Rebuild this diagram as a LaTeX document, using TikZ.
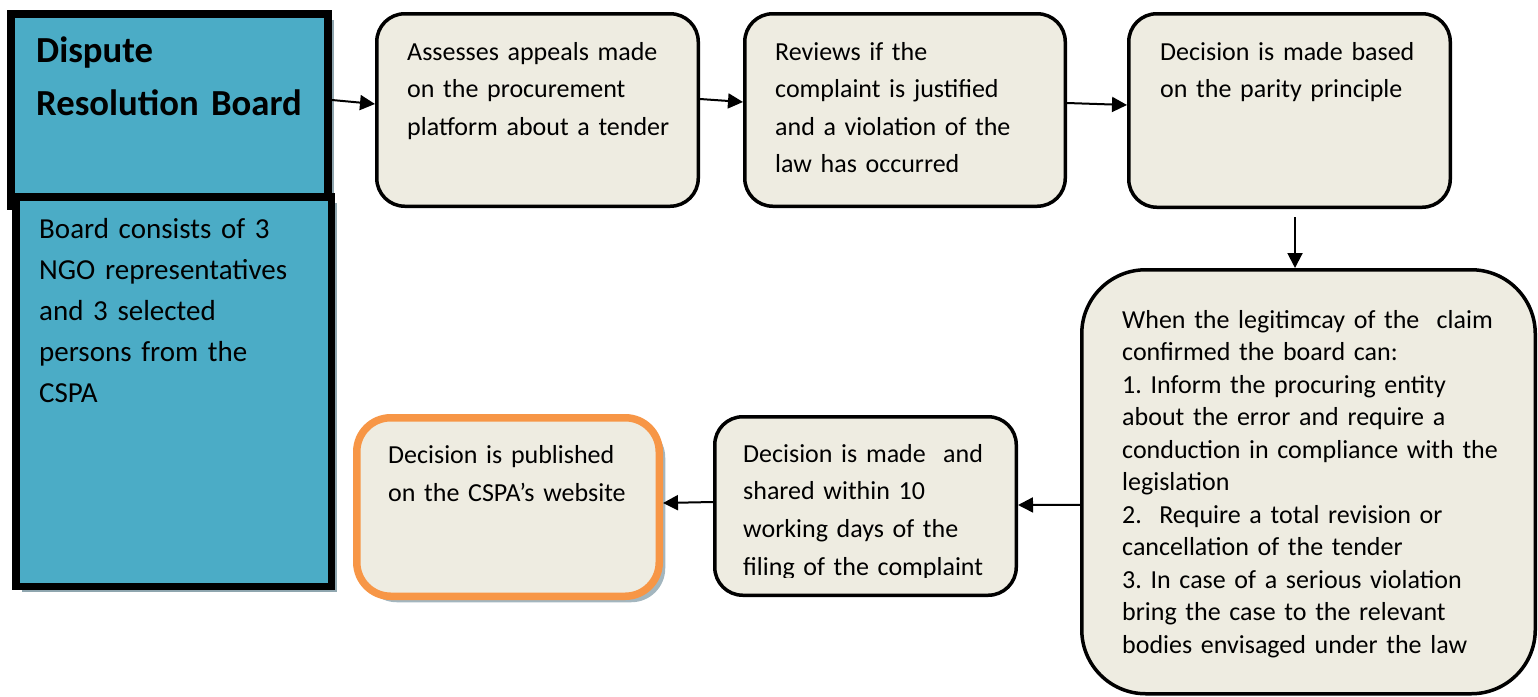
\documentclass[tikz,border=0pt]{standalone}
\usepackage{fontspec}
\setmainfont{Carlito}
\usetikzlibrary{arrows.meta,shadows}
\definecolor{bluefill}{HTML}{4BACC6}
\definecolor{beige}{HTML}{EEECE1}
\definecolor{orangeb}{HTML}{F79646}
\definecolor{shadowc}{HTML}{8FA6AF}
\definecolor{shadowf}{HTML}{A3B6BF}
\frenchspacing
\begin{document}
\begin{tikzpicture}[x=1pt,y=-1pt,
  bluebox/.style={draw=black, fill=bluefill, rectangle, inner sep=0pt, anchor=north west,
    drop shadow={opacity=1, fill=shadowc, shadow xshift=6pt, shadow yshift=-6pt}},
  stepbox/.style={draw=black, line width=3.5pt, fill=beige, rectangle, rounded corners=#1, inner sep=0pt, anchor=north west},
  stepbox/.default=28pt,
  pubbox/.style={draw=orangeb, line width=7.5pt, fill=beige, rectangle, rounded corners=34pt, inner sep=0pt, anchor=north west,
    drop shadow={opacity=1, fill=shadowf, shadow xshift=6pt, shadow yshift=-6pt}},
  txt/.style={anchor=base west, inner sep=0pt, align=left, text width=460pt,
    font=\fontsize{26pt}{37.5pt}\selectfont},
  arr/.style={line width=2pt, -{Triangle[length=15pt,width=15pt]}}]
\useasboundingbox (0,0) rectangle (1538,696);

% blue boxes
\node[bluebox, line width=8pt, minimum width=317pt, minimum height=192pt] (b1) at (7,10) {};
\node[bluebox, line width=7.5pt, minimum width=315.5pt, minimum height=389.5pt] (b2) at (12,193) {};
\node[txt, font=\bfseries\fontsize{36.7pt}{53pt}\selectfont] (t1) at (36,62) {Dispute\\Resolution Board};
\node[txt, font=\fontsize{29pt}{41pt}\selectfont] (t2) at (39,238) {Board consists of 3\\NGO representatives\\and 3 selected\\persons from the\\CSPA};

% step boxes
\node[stepbox, minimum width=321.5pt, minimum height=192.5pt] (A) at (375,12) {};
\node[stepbox, minimum width=320.5pt, minimum height=192.5pt] (B) at (743,12) {};
\node[stepbox, minimum width=321.5pt, minimum height=193.5pt] (C) at (1127,12) {};
\node[stepbox=64pt, minimum width=453.5pt, minimum height=424pt] (D) at (1080,268) {};
\node[stepbox, minimum width=301.5pt, minimum height=178.5pt] (E) at (713,415) {};
\node[pubbox, minimum width=302.5pt, minimum height=178.5pt] (F) at (353,414) {};

\node[txt] (tA) at (407,60) {Assesses appeals made\\on the procurement\\platform about a tender};
\node[txt] (tB) at (775,60) {Reviews if the\\complaint is justified\\and a violation of the\\law has occurred};
\node[txt] (tC) at (1160,60) {Decision is made based\\on the parity principle};
\node[txt, font=\fontsize{26pt}{32.5pt}\selectfont] (tD) at (1122,328) {When the legitimcay of the\ \ claim\\confirmed the board can:\\1. Inform the procuring entity\\about the error and require a\\conduction in compliance with the\\legislation\\2.\ \ Require a total revision or\\cancellation of the tender\\3. In case of a serious violation\\bring the case to the relevant\\bodies envisaged under the law};
\begin{scope}
\clip (700,400) rectangle (1030,577);
\node[txt, font=\fontsize{26pt}{37.7pt}\selectfont] (tE) at (743,462) {Decision is made\ \ and\\shared within 10\\working days of the\\filing of the complaint};
\end{scope}
\node[txt, font=\fontsize{26pt}{38.5pt}\selectfont] (tF) at (388,463) {Decision is published\\on the CSPA’s website};

% connectors
\draw[arr] ([yshift=10pt]b1.east) -- ([yshift=6pt]A.west);
\draw[arr] ([yshift=11pt]A.east) -- ([yshift=8pt]B.west);
\draw[arr] ([yshift=7pt]B.east) -- ([yshift=5.5pt]C.west);
\draw[arr] ([xshift=5.5pt,yshift=-8pt]C.south) -- ([xshift=5.5pt]C.south |- D.north);
\draw[arr] ([yshift=-23pt]D.west) -- ([yshift=1pt]E.east);
\draw[arr] ([yshift=4pt]E.west) -- ([yshift=4pt]F.east);
\end{tikzpicture}
\end{document}
